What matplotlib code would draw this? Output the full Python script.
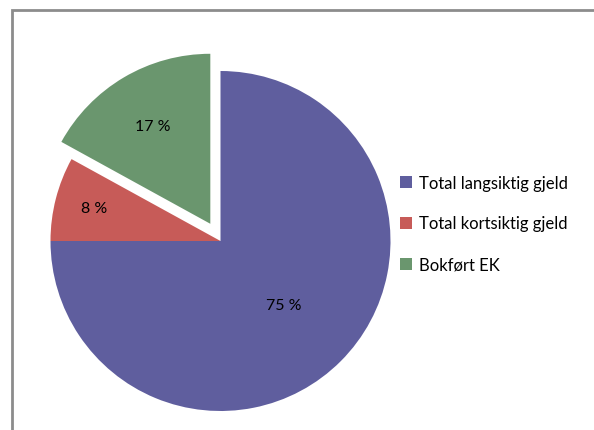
#!/usr/bin/env python3
"""Kapitalstruktur: pie of long-term debt, short-term debt and equity."""

import numpy as np
import matplotlib
matplotlib.use('Agg')
import matplotlib.pyplot as plt
from matplotlib.patches import Rectangle

plt.rcParams.update({
    'font.family': ['Lato', 'DejaVu Sans'],
    'font.size': 12,
})

W, H = 594, 431

labels = ['Total langsiktig gjeld', 'Total kortsiktig gjeld', 'Bokført EK']
shares = [75, 8, 17]
colors = ['#5F5E9E', '#C75B58', '#6A966E']

CENTER = (220.5, H - 242)
RADIUS = 170

# explode is in data units here (pixels), not a fraction of the radius
explode = [0, 0, 20]

# label distance (fraction of radius) for each wedge's percentage text
label_dist = [0.53, 0.77, 0.67]

fig = plt.figure(figsize=(W / 100, H / 100), dpi=100)
ax = fig.add_axes([0, 0, 1, 1])

wedges, _ = ax.pie(shares, colors=colors, explode=explode, startangle=90,
                   counterclock=False, center=CENTER, radius=RADIUS,
                   wedgeprops={'linewidth': 0})

for w, v, d in zip(wedges, shares, label_dist):
    ang = np.deg2rad((w.theta1 + w.theta2) / 2)
    cx, cy = w.center
    ax.text(cx + RADIUS * d * np.cos(ang), cy + RADIUS * d * np.sin(ang),
            f'{v} %', ha='center', va='center', fontsize=11.5, color='black')

ax.set_xlim(0, W)
ax.set_ylim(0, H)
ax.set_aspect('equal')
ax.axis('off')

# chart area frame
ax.add_patch(Rectangle((12, -20), W + 20, H - 11 + 20, fill=False,
                       edgecolor='#8C8C8C', lw=2, clip_on=False))

ax.legend(wedges, labels, loc='center left',
          bbox_to_anchor=(385, H - 224.5), bbox_transform=ax.transData,
          frameon=False, fontsize=12, handlelength=0.72,
          handleheight=0.72, handletextpad=0.4, labelspacing=1.5)

fig.savefig('out.png', dpi=100, facecolor='white')
